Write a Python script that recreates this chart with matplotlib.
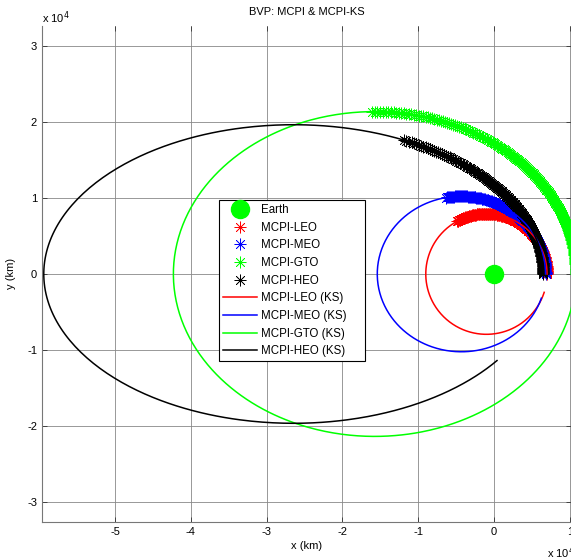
import numpy as np
import matplotlib
matplotlib.use('Agg')
import matplotlib.pyplot as plt
from matplotlib.ticker import FuncFormatter
from matplotlib.patches import Rectangle

plt.rcParams['font.family'] = ['Liberation Sans', 'DejaVu Sans']
plt.rcParams['axes.unicode_minus'] = False

# orbit data (km): periapsis / apoapsis radius
orbits = ['LEO', 'MEO', 'GTO', 'HEO']
colors = ['r', 'b', '#00ff00', 'k']
r_peri = [0.70e4, 0.68e4, 1.08e4, 0.65e4]
r_apo = [0.90e4, 1.54e4, 4.23e4, 5.94e4]
# true anomaly spans (deg) covered by the MCPI points and the KS lines
mcpi_end = [125, 122, 127, 124]
ks_end = [340, 333, 345, 272]

xticks = [-5e4, -4e4, -3e4, -2e4, -1e4, 0, 1e4]
yticks = [-3e4, -2e4, -1e4, 0, 1e4, 2e4, 3e4]


def conic(rp, ra, th_deg, n):
    e = (ra - rp) / (ra + rp)
    p = rp * (1 + e)
    th = np.radians(np.linspace(0, th_deg, n))
    r = p / (1 + e * np.cos(th))
    return r * np.cos(th), r * np.sin(th)


fig = plt.figure(figsize=(5.71, 5.60), dpi=100)
ax = fig.add_axes([0.0736, 0.0684, 0.9264, 0.885])

ax.plot([0], [0], 'o', color='#00ff00', markersize=13, label='Earth')

for name, c, rp, ra, te in zip(orbits, colors, r_peri, r_apo, mcpi_end):
    x, y = conic(rp, ra, te, 200)
    ax.plot(x, y, linestyle='none', marker=(8, 2, 0), markersize=8.5,
            markeredgewidth=0.5, color=c, label='MCPI-' + name)

for name, c, rp, ra, te in zip(orbits, colors, r_peri, r_apo, ks_end):
    x, y = conic(rp, ra, te, 600)
    ax.plot(x, y, '-', color=c, lw=1.1, label='MCPI-' + name + ' (KS)')

ax.set_xlim(-5.963e4, 1.016e4)
ax.set_ylim(-3.26e4, 3.263e4)
ax.set_xticks(xticks)
ax.set_yticks(yticks)
fmt = FuncFormatter(lambda v, pos: '%d' % round(v / 1e4))
ax.xaxis.set_major_formatter(fmt)
ax.yaxis.set_major_formatter(fmt)
ax.tick_params(direction='in', length=3.5, width=0.6, labelsize=8,
               top=True, right=True, colors='#333333', labelcolor='black')
ax.grid(True, color='#888888', lw=0.6)
for s in ['left', 'bottom', 'right']:
    ax.spines[s].set_color('#777777')
    ax.spines[s].set_linewidth(0.8)
ax.spines['top'].set_visible(False)

ax.set_title('BVP: MCPI & MCPI-KS', fontsize=8, pad=8)
ax.set_xlabel('x (km)', fontsize=8, labelpad=3)
ax.set_ylabel('y (km)', fontsize=8, labelpad=8)

fig.text(42 / 571, 1 - 18 / 560, r'x 10$^{4}$', fontsize=8, ha='left', va='center')
fig.text(547 / 571, 1 - 553 / 560, r'x 10$^{4}$', fontsize=8, ha='left', va='center')

leg = ax.legend(loc='upper left', bbox_to_anchor=(0.334, 0.649), borderaxespad=0,
                fontsize=8.3, handlelength=3.0, labelspacing=0.49, handletextpad=0.3,
                borderpad=0.35, fancybox=False, framealpha=1, edgecolor='black')
leg.set_zorder(5)

# MATLAB-style legend box: wider on the right than matplotlib's frame
fig.canvas.draw()
bb = leg.get_frame().get_window_extent().transformed(ax.transAxes.inverted())
leg.get_frame().set_visible(False)
box = Rectangle((bb.x0, bb.y0), bb.width + 15 / 529, bb.height, transform=ax.transAxes,
                facecolor='white', edgecolor='black', lw=0.8, zorder=4.9, clip_on=False)
ax.add_patch(box)

plt.savefig('out.png', dpi=100)
